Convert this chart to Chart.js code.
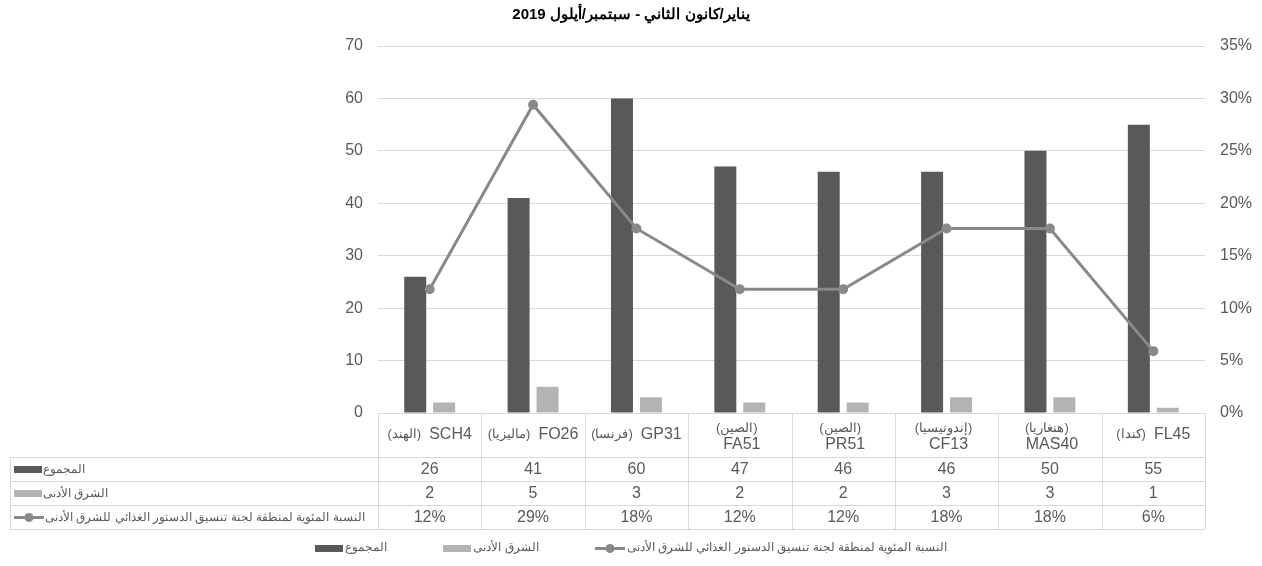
<!DOCTYPE html>
<html>
<head>
<meta charset="utf-8">
<script src="https://cdn.jsdelivr.net/npm/chart.js@4.4.1/dist/chart.umd.min.js"></script>
<style>
  html, body { margin: 0; padding: 0; background: #fff; }
</style>
</head>
<body>
<canvas id="chart" width="1262" height="566"></canvas>
<script>
const codes = ['SCH4', 'FO26', 'GP31', 'FA51', 'PR51', 'CF13', 'MAS40', 'FL45'];
const countries = ['(الهند)', '(ماليزيا)', '(فرنسا)', '(الصين)', '(الصين)', '(إندونيسيا)', '(هنغاريا)', '(كندا)'];
const labelWrap = [false, false, false, true, true, true, true, false];

const totals = [26, 41, 60, 47, 46, 46, 50, 55];
const nearEast = [2, 5, 3, 2, 2, 3, 3, 1];
const sharePct = [11.8, 29.4, 17.6, 11.8, 11.8, 17.6, 17.6, 5.9];

const seriesNames = [
  'المجموع',
  'الشرق الأدنى',
  'النسبة المئوية لمنطقة لجنة تنسيق الدستور الغذائي للشرق الأدنى'
];
const chartTitle = 'يناير/كانون الثاني - سبتمبر/أيلول 2019';

const DARK = '#595959', LIGHT = '#b3b3b3', LINE = '#898989', GRID = '#d9d9d9', TXT = '#595959';
const FONT = '"Liberation Sans", Arial, sans-serif';

Chart.defaults.font.family = FONT;

// small legend keys, reused in the table and in the legend row
function swatch(color) {
  const c = document.createElement('canvas');
  c.width = 28; c.height = 7;
  const g = c.getContext('2d');
  g.fillStyle = color;
  g.fillRect(0, 0, 28, 7);
  return c;
}
function lineKey(color) {
  const c = document.createElement('canvas');
  c.width = 30; c.height = 11;
  const g = c.getContext('2d');
  g.strokeStyle = color; g.lineWidth = 3;
  g.beginPath(); g.moveTo(0, 5.5); g.lineTo(30, 5.5); g.stroke();
  g.fillStyle = color;
  g.beginPath(); g.arc(15, 5.5, 4.5, 0, Math.PI * 2); g.fill();
  return c;
}
const keys = [swatch(DARK), swatch(LIGHT), lineKey(LINE)];

const tablePlugin = {
  id: 'dataTable',
  afterDraw(chart) {
    const ctx = chart.ctx;
    const xs = chart.scales.x;
    const area = chart.chartArea;
    const n = codes.length;
    const colW = (area.right - area.left) / n;
    const top = Math.round(area.bottom);
    const rows = [top, top + 44, top + 68, top + 92, top + 116];
    const left = 10;
    const L = Math.round(area.left), R = Math.round(area.right);

    ctx.save();
    ctx.strokeStyle = GRID;
    ctx.lineWidth = 1;
    ctx.beginPath();
    // horizontal lines
    ctx.moveTo(L, rows[0] + 0.5); ctx.lineTo(R, rows[0] + 0.5);
    for (let r = 1; r < rows.length; r++) {
      ctx.moveTo(left, rows[r] + 0.5); ctx.lineTo(R, rows[r] + 0.5);
    }
    // vertical lines
    ctx.moveTo(left + 0.5, rows[1]); ctx.lineTo(left + 0.5, rows[4]);
    for (let i = 0; i <= n; i++) {
      const vx = Math.round(area.left + i * colW) + 0.5;
      ctx.moveTo(vx, rows[0]); ctx.lineTo(vx, rows[4]);
    }
    ctx.stroke();

    ctx.fillStyle = TXT;
    ctx.textBaseline = 'middle';
    const codeFont = '16px ' + FONT, cFont = '13px ' + FONT;
    // category header row
    for (let i = 0; i < n; i++) {
      const cx = xs.getPixelForValue(i);
      if (labelWrap[i]) {
        ctx.textAlign = 'center';
        ctx.font = cFont; ctx.fillText(countries[i], cx - 3, rows[0] + 15);
        ctx.font = codeFont; ctx.fillText(codes[i], cx + 2, rows[0] + 32);
      } else {
        ctx.font = cFont; const wc = ctx.measureText(countries[i]).width;
        ctx.font = codeFont; const wk = ctx.measureText(codes[i]).width;
        const gap = 8, x0 = cx - (wc + gap + wk) / 2;
        ctx.textAlign = 'left';
        ctx.font = cFont; ctx.fillText(countries[i], x0, rows[0] + 21);
        ctx.font = codeFont; ctx.fillText(codes[i], x0 + wc + gap, rows[0] + 22);
      }
    }
    // value rows
    const vals = [totals, nearEast, sharePct.map(v => Math.round(v) + '%')];
    for (let r = 0; r < 3; r++) {
      const cy = rows[r + 1] + 12.5;
      ctx.textAlign = 'center';
      ctx.font = codeFont;
      for (let i = 0; i < n; i++) ctx.fillText(String(vals[r][i]), xs.getPixelForValue(i), cy);
      // row headers: key then name
      const k = keys[r];
      ctx.drawImage(k, 14, Math.round(cy - k.height / 2));
      ctx.textAlign = 'left';
      ctx.font = '12px ' + FONT;
      ctx.fillText(seriesNames[r], 14 + k.width + 1, cy);
    }

    // legend row, series read right to left
    ctx.font = '12px ' + FONT;
    ctx.textAlign = 'left';
    const order = [0, 1, 2];
    const gapItem = 56;
    const widths = order.map(s => keys[s].width + 2 + ctx.measureText(seriesNames[s]).width);
    let lx = chart.width / 2 - (widths.reduce((a, b) => a + b, 0) + gapItem * (order.length - 1)) / 2;
    const ly = 548;
    order.forEach((s, j) => {
      const k = keys[s];
      ctx.drawImage(k, Math.round(lx), Math.round(ly - k.height / 2));
      ctx.fillText(seriesNames[s], lx + k.width + 2, ly);
      lx += widths[j] + gapItem;
    });
    ctx.restore();
  }
};

const chartCtx = document.getElementById('chart').getContext('2d');
const chart = new Chart(chartCtx, {
  type: 'bar',
  data: {
    labels: codes,
    datasets: [
      {
        label: seriesNames[0], data: totals, yAxisID: 'y', order: 1,
        backgroundColor: DARK, borderWidth: 0,
        categoryPercentage: 0.56, barPercentage: 0.76
      },
      {
        label: seriesNames[1], data: nearEast, yAxisID: 'y', order: 1,
        backgroundColor: LIGHT, borderWidth: 0,
        categoryPercentage: 0.56, barPercentage: 0.76
      },
      {
        type: 'line', label: seriesNames[2], data: sharePct, yAxisID: 'y1', order: 0,
        borderColor: LINE, backgroundColor: LINE, borderWidth: 3,
        pointRadius: 5, pointBackgroundColor: LINE, pointBorderWidth: 0,
        tension: 0, fill: false
      }
    ]
  },
  options: {
    responsive: false,
    animation: false,
    devicePixelRatio: 1,
    layout: { padding: 0 },
    plugins: {
      legend: { display: false },
      tooltip: { enabled: false },
      title: {
        display: true,
        text: chartTitle,
        color: '#000',
        font: { size: 15, weight: 'bold', family: FONT },
        padding: { top: 6, bottom: 22 }
      }
    },
    scales: {
      x: {
        ticks: { display: false },
        grid: { display: false },
        border: { display: false },
        afterFit: s => { s.height = 153; }
      },
      y: {
        position: 'left',
        min: 0, max: 70,
        ticks: { stepSize: 10, padding: 15, color: TXT, font: { size: 16 } },
        grid: { color: GRID, drawTicks: false },
        border: { display: false },
        afterFit: s => { s.width = 378; }
      },
      y1: {
        position: 'right',
        min: 0, max: 35,
        ticks: { stepSize: 5, padding: 15, color: TXT, font: { size: 16 }, callback: v => v + '%' },
        grid: { drawOnChartArea: false, drawTicks: false },
        border: { display: false },
        afterFit: s => { s.width = 57; }
      }
    }
  },
  plugins: [tablePlugin]
});
</script>
</body>
</html>
